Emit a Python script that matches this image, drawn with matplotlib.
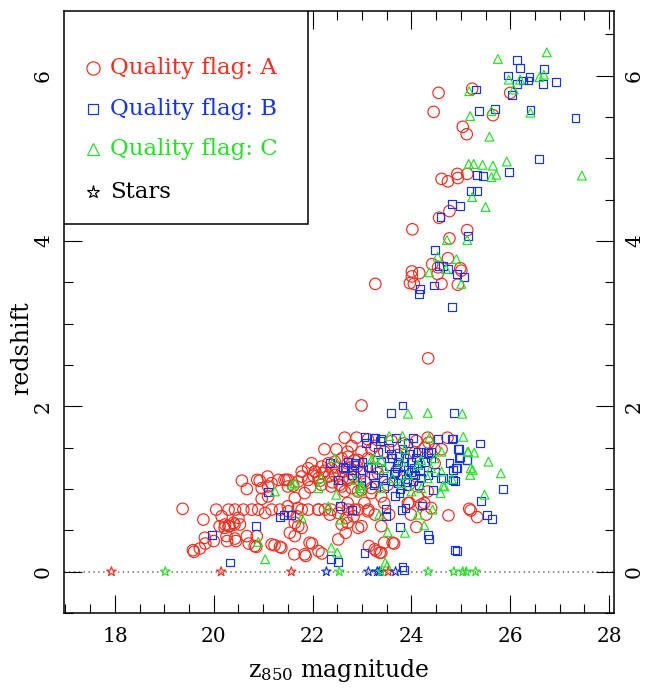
import matplotlib
matplotlib.use("Agg")
import matplotlib.pyplot as plt
from matplotlib.ticker import MultipleLocator
from matplotlib.patches import Rectangle

plt.rcParams['font.family'] = ['DejaVu Serif']
plt.rcParams['mathtext.fontset'] = 'dejavuserif'

# ---- quality flag A (red circles): z850 magnitude, redshift ----
mag_A = [24.55, 24.45, 25.23, 26.00, 25.65, 25.04, 25.12, 24.93, 25.13, 24.74, 24.94, 24.61,
         24.77, 24.56, 24.02, 25.13, 24.77, 24.74, 24.42, 24.54, 24.99, 25.01, 24.01, 24.16,
         24.01, 24.53, 23.97, 24.05, 24.61, 24.94, 23.27, 24.34, 22.99,
         19.37, 19.79, 19.60, 19.72, 19.83, 20.00, 20.27, 20.45, 20.71, 20.86, 21.23, 21.37,
         21.63, 21.86, 21.99, 22.19, 20.05, 20.16, 20.30, 20.43, 20.23, 20.30, 20.40, 20.50,
         20.60, 20.77, 20.90, 21.04, 21.17, 21.34, 21.51, 21.68, 21.78, 21.91, 22.12, 22.25,
         22.35, 21.71, 21.54, 21.64, 20.26, 20.43, 20.87, 22.52, 22.67, 22.99, 23.26, 23.36,
         23.45, 22.83, 22.68, 22.52, 22.72, 22.92, 23.13, 23.26, 23.14, 23.65, 22.59, 19.82,
         19.58, 20.12, 20.22, 20.32, 20.42, 20.53, 20.67, 20.83, 21.17, 21.34,
         20.57, 20.67, 20.88, 21.09, 21.10, 20.97, 21.31, 21.47, 21.61, 20.93, 20.97, 21.10,
         21.84, 21.64, 21.17, 21.43, 21.50,
         21.78, 21.91, 22.05, 22.18, 22.32, 22.45, 22.59, 22.72, 22.85, 21.71, 21.91, 22.12,
         22.32, 22.45, 22.62, 22.72, 22.85, 22.99, 22.18, 22.38, 22.59, 22.79, 22.99, 23.19,
         21.98, 22.48, 22.79, 23.12, 23.26, 22.65, 22.24, 21.51, 21.78, 22.05, 22.38, 22.71,
         22.92, 23.12,
         22.89, 22.71, 22.99, 23.19, 23.45, 23.72, 24.27, 24.47, 22.65, 22.92, 23.19, 23.39,
         24.13, 24.33, 22.71, 23.05, 23.45, 23.93, 24.20, 23.52, 22.75, 23.32,
         24.73, 24.33, 24.07, 24.61, 24.47, 24.75, 25.17, 25.20, 25.33, 24.10, 23.62, 24.30,
         24.26, 23.96, 23.99, 23.55, 24.40, 23.39, 21.94, 21.84, 22.12, 23.29,
         21.50, 21.70, 22.12, 22.38, 22.59, 22.85, 23.12, 21.64, 21.78, 22.71, 22.92, 23.39,
         23.60, 23.85, 24.10, 24.35, 23.70, 23.95,
         22.02, 22.25, 22.50, 22.40, 22.60, 22.90, 21.95, 22.15, 22.55, 23.05, 23.30, 22.20]
z_A = [5.79, 5.56, 5.84, 5.79, 5.52, 5.38, 5.29, 4.81, 4.81, 4.72, 4.76, 4.75,
       4.36, 4.28, 4.14, 4.13, 4.03, 3.79, 3.72, 3.68, 3.67, 3.64, 3.63, 3.61,
       3.57, 3.60, 3.49, 3.48, 3.48, 3.47, 3.48, 2.58, 2.01,
       0.76, 0.63, 0.24, 0.28, 0.34, 0.37, 0.37, 0.37, 0.34, 0.30, 0.32, 0.29,
       0.21, 0.19, 0.34, 0.22, 0.75, 0.67, 0.75, 0.75, 0.57, 0.55, 0.59, 0.65,
       0.75, 0.75, 0.75, 0.71, 0.75, 0.75, 0.73, 0.67, 0.75, 0.75, 0.75, 0.75,
       0.69, 0.55, 0.47, 0.43, 0.43, 0.40, 0.43, 0.39, 0.47, 0.55, 0.27, 0.23,
       0.35, 0.67, 0.65, 0.71, 0.75, 0.75, 0.75, 0.69, 0.31, 0.34, 0.57, 0.41,
       0.26, 0.55, 0.53, 0.55, 0.57, 0.57, 0.43, 0.31, 0.33, 0.30,
       1.10, 1.00, 1.11, 1.15, 1.03, 1.01, 1.11, 1.11, 1.04, 1.10, 0.88, 0.91,
       0.95, 0.89, 1.07, 1.11, 1.03,
       1.21, 1.25, 1.21, 1.27, 1.31, 1.33, 1.37, 1.39, 1.35, 1.09, 1.11, 1.13,
       1.15, 1.17, 1.21, 1.11, 1.15, 1.19, 1.05, 1.03, 1.03, 1.01, 0.99, 1.01,
       1.31, 1.48, 1.52, 1.60, 1.52, 1.62, 1.48, 1.11, 1.15, 1.21, 1.25, 1.31,
       1.35, 1.37,
       1.62, 1.45, 1.45, 1.48, 1.45, 1.41, 1.50, 1.48, 0.97, 0.97, 0.95, 0.91,
       0.91, 0.97, 0.83, 0.83, 0.83, 0.83, 0.81, 1.05, 1.13, 1.19,
       1.62, 1.62, 1.44, 1.48, 1.31, 0.68, 0.76, 0.74, 0.66, 0.54, 0.35, 0.69,
       0.83, 0.83, 0.69, 0.69, 0.77, 0.23, 0.35, 0.21, 0.25, 0.25,
       0.79, 0.77, 0.75, 0.75, 0.77, 0.75, 0.73, 0.59, 0.53, 0.59, 0.53, 0.55,
       1.58, 1.55, 1.58, 1.56, 1.22, 1.05,
       1.16, 1.22, 1.26, 1.08, 1.12, 1.27, 1.02, 1.10, 1.05, 1.09, 1.25, 1.19]

# ---- quality flag B (blue squares) ----
mag_B = [26.14, 26.20, 26.68, 25.95, 26.39, 26.37, 26.26, 26.14, 26.66, 26.92, 25.31, 26.03,
         25.37, 25.70, 26.41, 27.32, 26.58, 25.33, 25.45, 25.97, 25.21, 25.33, 24.82, 24.99,
         24.59, 25.15, 24.47, 24.55, 24.64, 24.74, 24.92, 25.06, 24.17, 24.15, 24.46, 24.82,
         19.96, 20.33, 20.85, 21.10, 21.34, 21.42, 21.56, 22.38, 22.52, 23.05, 22.55, 22.79,
         22.35, 22.52, 23.05, 23.08, 22.62, 22.85, 22.99, 22.79, 23.25, 23.36, 23.59, 23.26,
         23.43, 22.99, 23.12,
         23.82, 24.87, 25.38, 24.83, 24.96, 24.98, 25.12, 24.77, 24.93, 24.84, 24.89, 24.64,
         24.43, 25.86, 25.41, 25.53, 25.63, 24.22, 23.88, 23.80, 23.49, 23.49, 23.77, 24.34,
         24.89, 23.82, 23.85, 24.93, 24.35,
         23.26, 23.39, 23.69, 23.93, 24.03, 24.20, 24.40, 24.54, 24.84, 24.95, 24.97, 25.13,
         24.90, 24.60, 24.84, 22.71, 22.85, 23.01, 23.19, 23.39, 23.60, 23.73, 23.86, 24.00,
         24.13, 24.27, 24.40, 22.79, 22.99, 23.22, 23.42, 23.66, 23.80, 23.93, 24.07, 24.20,
         24.33, 24.47, 23.25, 23.45, 23.72, 23.90, 24.03, 23.66, 23.76, 22.65, 23.55, 23.82,
         24.33, 24.13, 23.32, 23.70, 23.85, 24.00, 23.75, 23.95, 24.10, 23.62, 23.88, 24.15,
         23.55, 23.65, 23.92, 24.05, 23.78, 24.18, 23.58]
z_B = [6.19, 6.09, 6.08, 6.00, 5.98, 5.94, 5.94, 5.90, 5.90, 5.92, 5.83, 5.76,
       5.57, 5.59, 5.58, 5.49, 4.99, 4.80, 4.78, 4.83, 4.60, 4.60, 4.45, 4.42,
       4.29, 4.06, 3.89, 3.70, 3.70, 3.66, 3.60, 3.56, 3.42, 3.36, 3.46, 3.20,
       0.44, 0.11, 0.55, 0.96, 0.66, 0.69, 0.68, 0.15, 0.12, 0.23, 0.79, 0.75,
       1.31, 1.11, 1.63, 1.56, 1.27, 1.31, 1.23, 1.23, 1.62, 1.58, 1.92, 1.07,
       1.11, 1.05, 1.27,
       2.01, 1.92, 1.55, 1.60, 1.48, 1.39, 1.35, 1.31, 1.25, 1.23, 1.10, 1.13,
       0.99, 1.00, 0.85, 0.68, 0.64, 0.80, 0.77, 0.75, 0.76, 0.67, 0.54, 0.44,
       0.26, 0.06, 0.02, 0.25, 0.39,
       1.62, 1.61, 1.62, 1.56, 1.62, 1.45, 1.45, 1.60, 1.61, 1.48, 1.37, 1.35,
       1.25, 1.13, 1.11, 1.33, 1.29, 1.33, 1.25, 1.33, 1.37, 1.33, 1.37, 1.33,
       1.29, 1.33, 1.37, 1.17, 1.13, 1.17, 1.13, 1.21, 1.17, 1.23, 1.17, 1.13,
       1.17, 1.21, 1.05, 1.01, 1.07, 1.03, 1.09, 0.91, 0.95, 1.25, 1.50, 1.48,
       1.43, 1.45, 1.45, 1.25, 1.28, 1.20, 1.40, 1.42, 1.38, 1.10, 1.12, 1.05,
       1.28, 1.18, 1.08, 1.25, 1.00, 1.22, 1.42]

# ---- quality flag C (green triangles) ----
mag_C = [25.75, 26.74, 25.97, 26.20, 26.59, 26.68, 25.17, 26.07, 25.62, 26.41, 25.19, 25.58,
         25.16, 25.26, 25.44, 25.65, 25.93, 25.72, 25.62, 27.45, 25.23, 25.50, 25.13, 24.72,
         24.53, 24.91, 24.70, 24.36, 25.01,
         21.24, 21.58, 21.64, 22.12, 22.18, 22.45, 22.32, 21.78, 22.57, 20.90, 21.04, 22.38,
         22.50, 22.92, 23.19, 23.39, 22.48, 23.35, 22.99,
         23.93, 24.33, 25.03, 25.05, 25.15, 25.27, 25.56, 25.81, 25.20, 25.24, 25.19, 24.82,
         24.64, 24.59, 25.48, 24.43, 24.13, 24.26, 23.52, 23.87, 23.47, 23.51,
         23.55, 23.82, 24.36, 24.61, 25.14, 23.25, 23.86, 24.20, 23.80, 23.45, 23.62, 23.93,
         24.40, 24.61, 24.67, 24.20, 23.80, 22.99, 22.85, 23.39, 24.00, 24.13, 24.47, 24.33]
z_C = [6.20, 6.28, 5.95, 5.95, 5.98, 6.01, 5.81, 5.83, 5.57, 5.55, 5.51, 5.26,
       4.93, 4.93, 4.92, 4.91, 4.96, 4.80, 4.77, 4.79, 4.53, 4.41, 4.01, 4.01,
       3.81, 3.78, 3.66, 3.62, 3.48,
       0.97, 1.05, 1.07, 1.01, 1.13, 1.37, 0.79, 0.65, 0.63, 0.36, 0.15, 0.29,
       0.23, 0.97, 1.35, 1.35, 0.93, 0.69, 1.01,
       1.91, 1.92, 1.91, 1.63, 1.45, 1.44, 1.33, 1.19, 1.25, 1.23, 1.17, 1.12,
       1.04, 0.95, 0.93, 0.75, 0.69, 0.56, 0.48, 0.47, 0.11, 0.07,
       1.64, 1.64, 1.62, 1.45, 1.45, 1.37, 1.48, 1.35, 1.33, 1.25, 1.13, 1.17,
       1.25, 1.21, 1.03, 1.01, 1.07, 1.05, 1.11, 1.01, 0.97, 1.29, 1.37, 1.13]

# ---- stars (redshift 0), coloured by their quality flag ----
mag_star = [17.93, 19.02, 20.15, 21.57, 22.28, 22.54, 23.13, 23.31, 23.35, 23.39, 23.53, 23.68,
            24.34, 24.86, 25.04, 25.11, 25.30]
flag_star = ['A', 'C', 'A', 'A', 'B', 'C', 'B', 'B', 'B', 'C', 'A', 'B',
             'C', 'C', 'C', 'C', 'C']

red = '#ff2a1a'
blue = '#1432ff'
green = '#1ee61e'
flag_col = {'A': red, 'B': blue, 'C': green}

fig = plt.figure(figsize=(6.5, 6.89), dpi=100)
ax = fig.add_axes([64 / 650, 76 / 689, 550 / 650, 602 / 689])

ax.axhline(0, color='#707070', lw=1.1, ls=(0, (1, 2.2)), zorder=1)

ax.scatter(mag_A, z_A, s=68, marker='o', facecolors='none', edgecolors=red, linewidths=0.85, zorder=2)
ax.scatter(mag_B, z_B, s=32, marker='s', facecolors='none', edgecolors=blue, linewidths=0.85, zorder=3)
ax.scatter(mag_C, z_C, s=40, marker='^', facecolors='none', edgecolors=green, linewidths=0.85, zorder=4)
ax.scatter(mag_star, [0] * len(mag_star), s=50, marker='*', facecolors='none',
           edgecolors=[flag_col[f] for f in flag_star], linewidths=0.85, zorder=5)

ax.set_xlim(16.97, 28.1)
ax.set_ylim(-0.5, 6.78)
ax.xaxis.set_major_locator(MultipleLocator(2))
ax.xaxis.set_minor_locator(MultipleLocator(0.5))
ax.yaxis.set_major_locator(MultipleLocator(2))
ax.yaxis.set_minor_locator(MultipleLocator(0.5))
ax.tick_params(which='both', direction='in', top=True, right=True, width=0.8)
ax.tick_params(which='major', length=13)
ax.tick_params(which='minor', length=6.7)
ax.tick_params(axis='x', labelsize=14.5, pad=10)
ax.tick_params(axis='y', labelsize=14.5, pad=8, labelright=True)
for t in ax.yaxis.get_major_ticks():
    t.label1.set_rotation(90)
    t.label1.set_va('center')
    t.label2.set_rotation(90)
    t.label2.set_va('center')
for sp in ax.spines.values():
    sp.set_linewidth(1.1)

ax.set_xlabel(r'z$_{850}$ magnitude', fontsize=17, labelpad=8)
ax.set_ylabel('redshift', fontsize=17)
ax.yaxis.set_label_coords(-0.056, 0.44)

# legend box drawn in the upper left corner
ax.add_patch(Rectangle((0, 0.646), 0.4436, 0.354, transform=ax.transAxes,
                       facecolor='white', edgecolor='black', lw=1.1, zorder=6))
entries = [('o', red, 'Quality flag: A', 9.5),
           ('s', blue, 'Quality flag: B', 7.0),
           ('^', green, 'Quality flag: C', 8.8),
           ('*', 'black', 'Stars', 9.5)]
rows = [0.905, 0.837, 0.770, 0.700]
for (mk, col, txt, ms), yy in zip(entries, rows):
    ax.plot([0.053], [yy], marker=mk, ms=ms, mfc='none', mec=col, mew=0.85,
            transform=ax.transAxes, zorder=7, clip_on=False)
    ax.text(0.0836, yy, txt, color=col, fontsize=16.5, va='center', ha='left',
            transform=ax.transAxes, zorder=7)

fig.savefig('out.png', dpi=100)
